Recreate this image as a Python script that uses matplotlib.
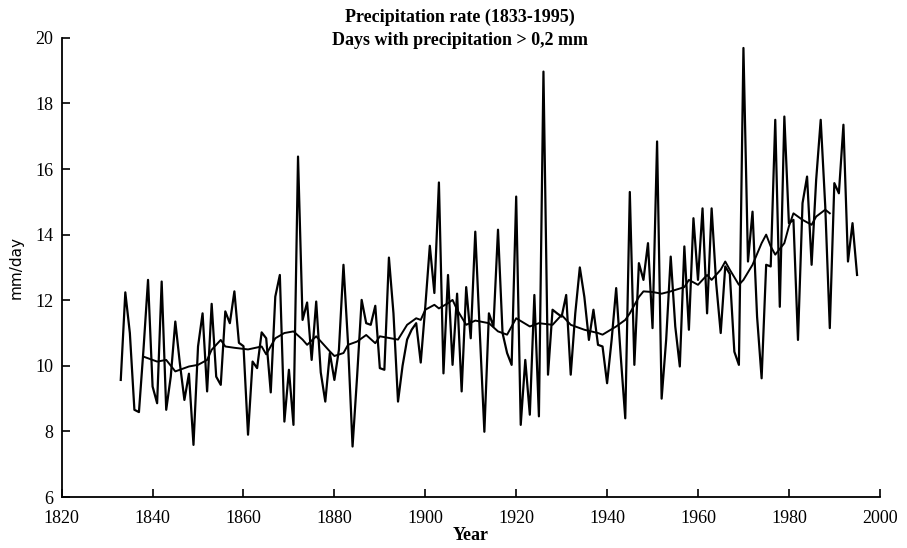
import matplotlib
matplotlib.use("Agg")
import matplotlib.pyplot as plt

# annual precipitation rate, 1833-1995 (mm/day)
years = list(range(1833, 1996))
rate = [
    9.57, 12.24, 11.0, 8.66, 8.59, 10.5, 12.62, 9.37, 8.86, 12.57,
    8.66, 9.67, 11.35, 10.08, 8.96, 9.76, 7.59, 10.59, 11.6, 9.22,
    11.89, 9.67, 9.42, 11.66, 11.3, 12.27, 10.7, 10.6, 7.9, 10.13,
    9.93, 11.02, 10.84, 9.19, 12.11, 12.77, 8.3, 9.88, 8.2, 16.38,
    11.4, 11.93, 10.18, 11.96, 9.8, 8.91, 10.39, 9.57, 10.49, 13.08,
    10.69, 7.54, 9.68, 12.01, 11.3, 11.25, 11.83, 9.93, 9.88, 13.3,
    11.6, 8.91, 10.0, 10.8, 11.1, 11.3, 10.1, 11.8, 13.66, 12.22,
    15.59, 9.77, 12.77, 10.03, 12.2, 9.22, 12.4, 10.84, 14.09, 11.0,
    7.99, 11.6, 11.2, 14.15, 11.0, 10.39, 10.03, 15.16, 8.2, 10.18,
    8.51, 12.16, 8.46, 18.97, 9.73, 11.71, 11.6, 11.5, 12.16, 9.73,
    11.6, 13.0, 12.1, 10.79, 11.71, 10.64, 10.59, 9.47, 10.79, 12.37,
    10.3, 8.4, 15.3, 10.03, 13.13, 12.62, 13.74, 11.15, 16.84, 9.0,
    10.8, 13.33, 11.2, 9.98, 13.64, 11.1, 14.5, 12.62, 14.8, 11.6,
    14.8, 12.52, 11.0, 13.03, 12.8, 10.43, 10.03, 19.69, 13.18, 14.7,
    11.5, 9.62, 13.08, 13.03, 17.5, 11.8, 17.6, 14.35, 14.45, 10.79,
    14.96, 15.77, 13.08, 15.67, 17.5, 14.86, 11.15, 15.57, 15.26, 17.35,
    13.18, 14.35, 12.77,
]

# smoothed curve
smooth_years = [
    1838, 1841, 1843, 1845, 1848, 1850, 1852, 1853, 1855, 1856,
    1858, 1861, 1864, 1865, 1867, 1869, 1871, 1873, 1874, 1876,
    1879, 1880, 1882, 1883, 1885, 1887, 1889, 1890, 1894, 1896,
    1898, 1899, 1900, 1902, 1903, 1905, 1906, 1907, 1909, 1911,
    1914, 1916, 1918, 1920, 1923, 1925, 1928, 1930, 1932, 1933,
    1935, 1938, 1939, 1942, 1944, 1945, 1947, 1948, 1950, 1952,
    1954, 1957, 1958, 1960, 1962, 1963, 1965, 1966, 1967, 1969,
    1970, 1972, 1974, 1975, 1976, 1977, 1979, 1980, 1981, 1983,
    1985, 1986, 1988, 1989,
]
smooth = [
    10.28, 10.13, 10.18, 9.83, 9.98, 10.03, 10.18, 10.49, 10.79, 10.59,
    10.55, 10.5, 10.59, 10.35, 10.84, 11.0, 11.05, 10.8, 10.64, 10.9,
    10.44, 10.3, 10.39, 10.64, 10.74, 10.94, 10.69, 10.9, 10.8, 11.25,
    11.45, 11.4, 11.71, 11.86, 11.75, 11.91, 12.01, 11.71, 11.25, 11.38,
    11.3, 11.05, 10.95, 11.45, 11.2, 11.3, 11.25, 11.55, 11.25, 11.2,
    11.1, 11.0, 10.95, 11.2, 11.4, 11.6, 12.1, 12.27, 12.25, 12.2,
    12.27, 12.4, 12.62, 12.47, 12.77, 12.62, 12.93, 13.18, 12.93, 12.47,
    12.62, 13.08, 13.74, 14.0, 13.64, 13.39, 13.74, 14.25, 14.65, 14.45,
    14.3, 14.55, 14.76, 14.65,
]

xticks = list(range(1820, 2001, 20))
yticks = list(range(6, 21, 2))

serif = ["Liberation Serif", "DejaVu Serif"]

fig = plt.figure(figsize=(9.07, 5.48), dpi=100)
ax = fig.add_axes([0.068, 0.093, 0.902, 0.838])

ax.plot(years, rate, color="black", lw=1.6)
ax.plot(smooth_years, smooth, color="black", lw=1.4)

ax.set_xlim(1820, 2000)
ax.set_ylim(6, 20)
ax.set_xticks(xticks)
ax.set_yticks(yticks)
ax.spines["top"].set_visible(False)
ax.spines["right"].set_visible(False)
ax.spines["left"].set_linewidth(1.3)
ax.spines["bottom"].set_linewidth(1.3)
ax.tick_params(direction="in", length=6, width=1.2)
ax.tick_params(axis="x", pad=9)
ax.tick_params(axis="y", pad=6)
for lab in ax.get_xticklabels() + ax.get_yticklabels():
    lab.set_family(serif)
    lab.set_fontsize(13)

ax.set_xlabel("Year", family=serif, fontsize=13, fontweight="bold", labelpad=0)
ax.set_ylabel("mm/day", family="DejaVu Sans", fontsize=11, labelpad=8)

fig.text(0.507, 0.969, "Precipitation rate (1833-1995)", family=serif,
         fontsize=13, fontweight="bold", ha="center", va="center")
fig.text(0.507, 0.927, "Days with precipitation > 0,2 mm", family=serif,
         fontsize=13, fontweight="bold", ha="center", va="center")

fig.savefig("out.png", dpi=100)
